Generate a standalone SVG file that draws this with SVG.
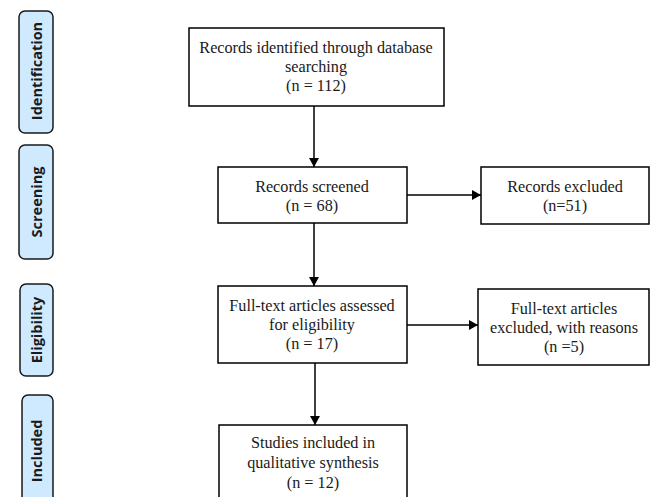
<svg xmlns="http://www.w3.org/2000/svg" width="654" height="497" viewBox="0 0 654 497">
<style>
.box{fill:#fff;stroke:#000;stroke-width:1.5}
.side{fill:#cfeaff;stroke:#1a1a1a;stroke-width:1.5}
.t{font-family:"Liberation Serif","Times New Roman",serif;font-size:16.2px;fill:#1a1a1a;text-anchor:middle}
.s{font-family:"Open Sans","DejaVu Sans",sans-serif;font-size:14.5px;font-weight:bold;fill:#1a1a1a;text-anchor:middle}
.c{stroke:#000;stroke-width:1.5;fill:none}
</style>
<defs>
<marker id="ah" markerWidth="10" markerHeight="10" refX="9" refY="5" orient="auto" markerUnits="userSpaceOnUse">
<path d="M0,0 L9,5 L0,10 Z" fill="#000"/>
</marker>
</defs>
<rect width="654" height="497" fill="#fff"/>
<g id="side-identification"><rect class="side" x="19" y="11" width="34" height="122" rx="6"/><text class="s" transform="translate(42,71) rotate(-90)">Identification</text></g>
<g id="side-screening"><rect class="side" x="19" y="145" width="34" height="114" rx="6"/><text class="s" transform="translate(42,202) rotate(-90)">Screening</text></g>
<g id="side-eligibility"><rect class="side" x="20" y="284" width="33" height="92" rx="6"/><text class="s" transform="translate(42,330) rotate(-90)">Eligibility</text></g>
<g id="side-included"><rect class="side" x="22" y="395" width="31" height="120" rx="6"/><text class="s" transform="translate(42,451) rotate(-90)">Included</text></g>
<g id="connectors">
<line class="c" x1="314" y1="106" x2="314" y2="167" marker-end="url(#ah)"/>
<line class="c" x1="407" y1="195" x2="481" y2="195" marker-end="url(#ah)"/>
<line class="c" x1="314" y1="223" x2="314" y2="286" marker-end="url(#ah)"/>
<line class="c" x1="407" y1="325" x2="478" y2="325" marker-end="url(#ah)"/>
<line class="c" x1="315" y1="363" x2="315" y2="425" marker-end="url(#ah)"/>
</g>
<g id="identified"><rect class="box" x="189" y="28" width="255" height="78"/><text class="t" x="316" y="53">Records identified through database</text><text class="t" x="316" y="72">searching</text><text class="t" x="316" y="91">(n = 112)</text></g>
<g id="screened"><rect class="box" x="218" y="167" width="189" height="56"/><text class="t" x="312" y="192">Records screened</text><text class="t" x="312" y="211">(n = 68)</text></g>
<g id="excluded"><rect class="box" x="481" y="167" width="168" height="57"/><text class="t" x="565" y="192">Records excluded</text><text class="t" x="565" y="211">(n=51)</text></g>
<g id="assessed"><rect class="box" x="218" y="286" width="189" height="77"/><text class="t" x="312" y="311">Full-text articles assessed</text><text class="t" x="312" y="330">for eligibility</text><text class="t" x="312" y="349">(n = 17)</text></g>
<g id="excluded-reasons"><rect class="box" x="478" y="289" width="171" height="76"/><text class="t" x="564" y="314">Full-text articles</text><text class="t" x="564" y="333">excluded, with reasons</text><text class="t" x="564" y="352">(n =5)</text></g>
<g id="included"><rect class="box" x="219" y="425" width="188" height="90"/><text class="t" x="313" y="448">Studies included in</text><text class="t" x="313" y="468">qualitative synthesis</text><text class="t" x="313" y="488">(n = 12)</text></g>
</svg>
